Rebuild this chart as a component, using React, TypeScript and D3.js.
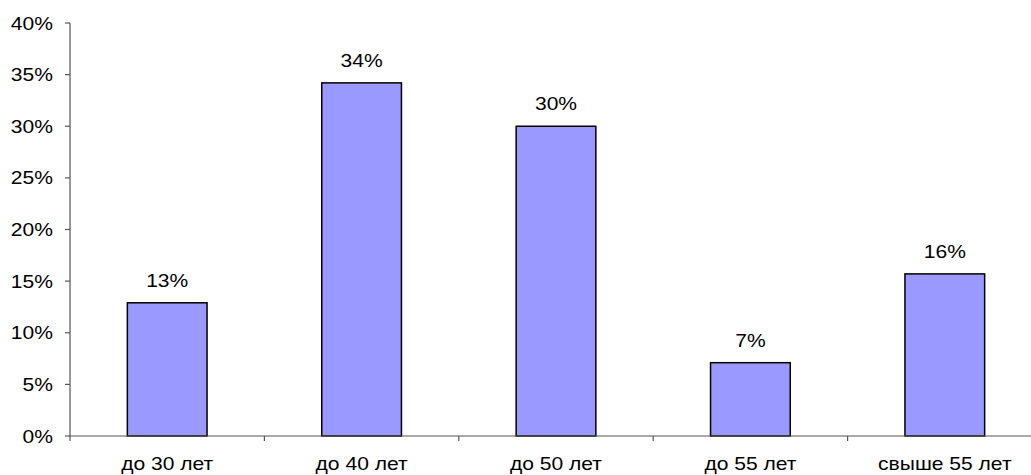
import React from "react";
import * as d3 from "d3";

const categories = ["до 30 лет", "до 40 лет", "до 50 лет", "до 55 лет", "свыше 55 лет"];
const values = [12.9, 34.2, 30.0, 7.1, 15.7];
const valueLabels = ["13%", "34%", "30%", "7%", "16%"];
const yTicks = [0, 5, 10, 15, 20, 25, 30, 35, 40];

const W = 1031;
const H = 475;
const left = 70;
const right = 1042;
const top = 23;
const bottom = 436;

const font = "'Liberation Sans', Arial, sans-serif";

function T({ x, y, anchor, children }: { x: number; y: number; anchor: string; children: React.ReactNode }) {
  return (
    <text
      transform={`translate(${x},${y}) scale(1.17,1)`}
      textAnchor={anchor}
      fontFamily={font}
      fontSize={18}
      fill="#000"
    >
      {children}
    </text>
  );
}

export default function App() {
  const x = d3.scaleBand<string>().domain(categories).range([left, right]).paddingInner(0).paddingOuter(0);
  const y = d3.scaleLinear().domain([0, 40]).range([bottom, top]);
  const bw = x.bandwidth() * 0.41;
  const axisColor = "#555";
  const edges = categories.map((c) => x(c)!).concat([right]);
  return (
    <svg width={W} height={H} style={{ position: "absolute", left: 0, top: 0, background: "#fff" }}>
      <rect x={0} y={0} width={W} height={H} fill="#fff" />
      {categories.map((c, i) => {
        const cx = x(c)! + x.bandwidth() / 2;
        return (
          <g key={c}>
            <rect
              x={cx - bw / 2}
              y={y(values[i])}
              width={bw}
              height={bottom - y(values[i])}
              fill="#9999FF"
              stroke="#000"
              strokeWidth={1.5}
            />
            <T x={cx} y={y(values[i]) - 16} anchor="middle">
              {valueLabels[i]}
            </T>
            <T x={cx} y={470} anchor="middle">
              {c}
            </T>
          </g>
        );
      })}
      <line x1={left} x2={left} y1={top} y2={bottom} stroke={axisColor} strokeWidth={1.2} />
      <line x1={left} x2={right} y1={bottom} y2={bottom} stroke={axisColor} strokeWidth={1.2} />
      {yTicks.map((t) => (
        <g key={t}>
          <line x1={left - 5} x2={left} y1={y(t)} y2={y(t)} stroke={axisColor} strokeWidth={1.2} />
          <T x={53} y={y(t) + 6.5} anchor="end">
            {t}%
          </T>
        </g>
      ))}
      {edges.map((e, i) => (
        <line key={i} x1={e} x2={e} y1={bottom} y2={bottom + 5} stroke={axisColor} strokeWidth={1.2} />
      ))}
    </svg>
  );
}
